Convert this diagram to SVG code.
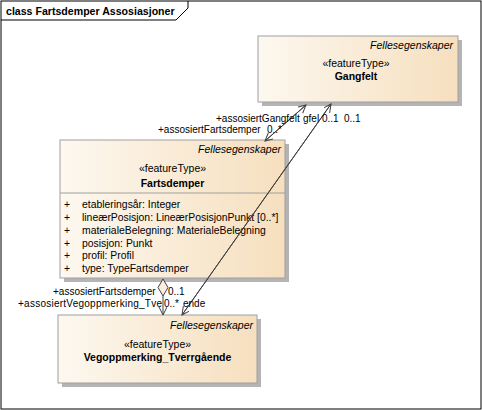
<svg xmlns="http://www.w3.org/2000/svg" width="482" height="410" viewBox="0 0 482 410">
<style>
text{font-family:"Liberation Sans",Arial,sans-serif;font-size:10.5px;fill:#000}
.title{font-weight:bold;font-size:10.6px}
.pkg{font-style:italic;text-anchor:end}
.st{text-anchor:middle}
.nm{text-anchor:middle;font-weight:bold}
.box{fill:url(#g);stroke:#a0a0a0;stroke-width:1}
.sh{fill:#b4b4b4}
.ln{stroke:#404040;stroke-width:1;fill:none}
.attr text{font-size:10.4px}
.lb{font-size:10px}
</style>
<defs>
<linearGradient id="g" x1="0" y1="0" x2="1" y2="0">
<stop offset="0" stop-color="#fdf8f0"/>
<stop offset="1" stop-color="#f6dfbe"/>
</linearGradient>
<marker id="a" markerUnits="userSpaceOnUse" markerWidth="12" markerHeight="12" refX="8" refY="4" orient="auto">
<path d="M0,0 L8,4 L0,8" fill="none" stroke="#404040" stroke-width="1"/>
</marker>
</defs>
<rect x="1" y="1" width="480" height="408" fill="#fff" stroke="#000" stroke-width="1"/>
<path d="M1,20 L176,20 L188,8 L188,1" fill="none" stroke="#000" stroke-width="1"/>
<text class="title" x="6" y="15">class Fartsdemper Assosiasjoner</text>

<g id="Gangfelt">
<rect class="sh" x="262" y="40" width="200" height="66"/>
<rect class="box" x="258" y="36" width="200" height="66"/>
<text class="pkg" x="453" y="49">Fellesegenskaper</text>
<text class="st" x="356" y="67">«featureType»</text>
<text class="nm" x="356" y="80">Gangfelt</text>
</g>

<g id="Fartsdemper">
<rect class="sh" x="64" y="144" width="225" height="138"/>
<rect class="box" x="60" y="140" width="225" height="138"/>
<text class="pkg" x="281" y="153">Fellesegenskaper</text>
<text class="st" x="172.5" y="172">«featureType»</text>
<text class="nm" x="172.5" y="187">Fartsdemper</text>
<line x1="60" y1="193" x2="285" y2="193" stroke="#a0a0a0"/>
<g class="attr">
<text x="64" y="208">+</text><text x="82" y="208">etableringsår: Integer</text>
<text x="64" y="221">+</text><text x="82" y="221">lineærPosisjon: LineærPosisjonPunkt [0..*]</text>
<text x="64" y="234">+</text><text x="82" y="234">materialeBelegning: MaterialeBelegning</text>
<text x="64" y="247">+</text><text x="82" y="247">posisjon: Punkt</text>
<text x="64" y="259">+</text><text x="82" y="259">profil: Profil</text>
<text x="64" y="272">+</text><text x="82" y="272">type: TypeFartsdemper</text>
</g>
</g>

<g id="Vegoppmerking_Tverrgaende">
<rect class="sh" x="62" y="319" width="199" height="68"/>
<rect class="box" x="58" y="315" width="199" height="68"/>
<text class="pkg" x="253" y="329">Fellesegenskaper</text>
<text class="st" x="157.5" y="348">«featureType»</text>
<text class="nm" x="157.5" y="361">Vegoppmerking_Tverrgående</text>
</g>

<g id="connectors">
<line class="ln" x1="265" y1="141" x2="306" y2="105" marker-end="url(#a)"/>
<line class="ln" x1="306" y1="105" x2="265" y2="141" marker-end="url(#a)"/>
<line class="ln" x1="182" y1="315" x2="331" y2="104" marker-end="url(#a)"/>
<line class="ln" x1="331" y1="104" x2="182" y2="315" marker-end="url(#a)"/>
<polygon points="163,279 168,287.5 163,296 158,287.5" fill="#fbeee0" stroke="#404040"/>
<line class="ln" x1="163" y1="296" x2="163" y2="315" marker-end="url(#a)"/>
</g>

<g id="labels">
<text class="lb" x="216" y="122">+assosiertGangfelt</text>
<text class="lb" x="303" y="122">gfel</text>
<text class="lb" x="322" y="122">0..1</text>
<text class="lb" x="344" y="122">0..1</text>
<text class="lb" x="158" y="133">+assosiertFartsdemper</text>
<text class="lb" x="267" y="133">0..*</text>
<text class="lb" x="53" y="295">+assosiertFartsdemper</text>
<text class="lb" x="168" y="295">0..1</text>
<text class="lb" x="18" y="307" textLength="144" lengthAdjust="spacing">+assosiertVegoppmerking_Tve</text>
<text class="lb" x="164" y="307">0..*</text>
<text class="lb" x="183" y="307">ende</text>
</g>
</svg>
